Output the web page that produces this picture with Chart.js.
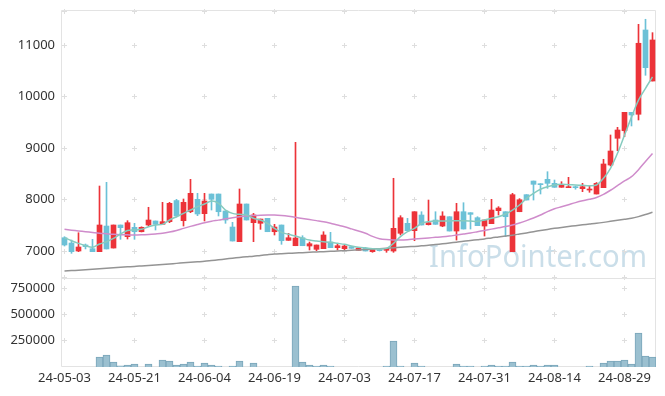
<!DOCTYPE html>
<html><head><meta charset="utf-8">
<script src="https://cdn.jsdelivr.net/npm/chart.js@4.4.1/dist/chart.umd.min.js"></script>
<style>html,body{margin:0;padding:0;background:#fff;}#wrap{width:665px;height:396px;position:relative;}</style>
</head><body><div id="wrap"><canvas id="c" width="665" height="396"></canvas></div>
<script>
const dates = ['24-05-03','24-05-07','24-05-08','24-05-09','24-05-10','24-05-13','24-05-14','24-05-16','24-05-17','24-05-20',
'24-05-21','24-05-22','24-05-23','24-05-24','24-05-27','24-05-28','24-05-29','24-05-30','24-05-31','24-06-03',
'24-06-04','24-06-05','24-06-07','24-06-10','24-06-11','24-06-12','24-06-13','24-06-14','24-06-17','24-06-18',
'24-06-19','24-06-20','24-06-21','24-06-24','24-06-25','24-06-26','24-06-27','24-06-28','24-07-01','24-07-02',
'24-07-03','24-07-04','24-07-05','24-07-08','24-07-09','24-07-10','24-07-11','24-07-12','24-07-15','24-07-16',
'24-07-17','24-07-18','24-07-19','24-07-22','24-07-23','24-07-24','24-07-25','24-07-26','24-07-29','24-07-30',
'24-07-31','24-08-01','24-08-02','24-08-05','24-08-06','24-08-07','24-08-08','24-08-09','24-08-12','24-08-13',
'24-08-14','24-08-16','24-08-19','24-08-20','24-08-21','24-08-22','24-08-23','24-08-26','24-08-27','24-08-28',
'24-08-29','24-08-30','24-09-02','24-09-03','24-09-04'];

const opens = [7258,7155,7000,7117,7045,6987,7485,7058,7505,7278,
 7460,7375,7505,7583,7518,7570,7980,7589,7763,8004,
 7725,8107,8107,7777,7466,7181,7913,7550,7538,7635,
 7375,7505,7207,7103,7258,7097,7033,7045,7175,7065,
 7045,7084,7013,7058,6987,7020,7013,7000,7344,7538,
 7395,7699,7511,7602,7485,7666,7388,7763,7744,7647,
 7485,7531,7783,7763,6987,7763,8094,8359,8307,8392,
 8314,8237,8230,8249,8210,8184,8107,8230,8670,9189,
 9336,9693,9655,11292,10301];

const highs = [7278,7213,7355,7136,7227,8262,8334,7505,7505,7589,
 7538,7470,7849,7583,7945,7945,8004,8010,8392,8120,
 8120,8107,8107,7777,7557,8204,7913,7731,7621,7635,
 7518,7505,7344,9111,7297,7175,7117,7375,7363,7142,
 7110,7090,7070,7070,7040,7030,7052,8412,7686,7634,
 7763,7763,7990,7763,7763,7666,7926,7938,7744,7666,
 7602,8004,7861,7763,8120,8017,8094,8359,8307,8540,
 8379,8346,8431,8262,8314,8262,8330,8781,9253,9402,
 9693,9693,11402,11500,11240];

const lows = [7097,6955,6987,7040,6987,6987,7040,7058,7227,7233,
 7227,7370,7485,7408,7518,7550,7660,7485,7744,7686,
 7583,7796,7680,7538,7194,7181,7602,7181,7421,7375,
 7311,7130,7207,7103,7103,7020,7007,7045,7065,7020,
 7020,7052,7013,7000,6975,7000,6975,6975,7311,7395,
 7200,7505,7505,7518,7472,7388,7213,7427,7427,7492,
 7291,7531,7699,7278,6987,7763,7990,7990,8107,8217,
 8237,8237,8230,8200,8152,8140,8107,8230,8651,8948,
 9220,9428,9544,10412,10301];

const closes = [7117,6987,7078,7085,6987,7505,7040,7505,7453,7550,
 7375,7460,7602,7518,7570,7926,7680,7945,8120,7719,
 7971,8004,7763,7602,7194,7913,7602,7700,7621,7375,
 7466,7200,7258,7252,7103,7142,7117,7311,7065,7103,
 7097,7052,7058,7000,7033,7007,7052,7440,7647,7395,
 7763,7505,7550,7518,7680,7388,7763,7427,7712,7492,
 7602,7796,7835,7666,8094,7996,7990,8295,8288,8314,
 8237,8295,8249,8230,8249,8204,8314,8690,8942,9350,
 9693,9641,11034,10560,11098];

const ma5 = [7258,7200,7149,7103,7072,7136,7181,7246,7330,7400,
 7408,7421,7472,7505,7518,7602,7666,7731,7796,7861,
 7913,7971,7926,7796,7731,7712,7699,7635,7602,7538,
 7440,7363,7324,7290,7250,7213,7194,7181,7168,7149,
 7130,7097,7072,7058,7045,7039,7052,7149,7278,7375,
 7440,7538,7570,7583,7583,7583,7589,7589,7583,7576,
 7602,7635,7666,7719,7796,7893,8023,8120,8200,8249,
 8282,8295,8288,8282,8275,8268,8282,8411,8606,8897,
 9250,9600,9930,10160,10380];

const ma20 = [7421,7405,7390,7375,7360,7345,7335,7325,7318,7314,
 7311,7315,7322,7332,7344,7368,7400,7440,7478,7515,
 7550,7578,7600,7625,7648,7666,7680,7690,7696,7699,
 7699,7690,7675,7654,7632,7610,7590,7570,7540,7505,
 7472,7430,7388,7344,7285,7240,7222,7215,7213,7220,
 7233,7245,7255,7265,7275,7290,7310,7330,7350,7375,
 7400,7425,7450,7475,7505,7545,7590,7640,7700,7765,
 7820,7860,7900,7940,7975,8005,8040,8100,8180,8270,
 8360,8443,8580,8740,8895];

const ma60 = [6612,6620,6628,6636,6645,6655,6665,6675,6685,6693,
 6700,6710,6720,6730,6740,6750,6760,6770,6780,6790,
 6800,6815,6830,6845,6860,6875,6888,6900,6915,6928,
 6940,6948,6955,6962,6968,6975,6982,6988,6994,7000,
 7006,7014,7022,7030,7038,7046,7055,7064,7073,7082,
 7090,7100,7110,7125,7140,7155,7172,7190,7205,7220,
 7235,7255,7272,7290,7308,7330,7352,7375,7398,7420,
 7440,7458,7475,7492,7508,7523,7538,7556,7576,7596,
 7616,7635,7668,7708,7751];

const volumes = [null,null,null,null,null,95000,114000,47500,12000,19000,
 28500,null,28500,null,66500,57000,19000,28500,47500,9500,
 38000,19000,9500,null,8000,57000,null,38000,null,null,
 null,null,null,770000,47500,19000,9500,19000,9500,null,
 null,null,null,null,null,null,9500,247000,9500,null,
 38000,9500,null,null,null,null,28500,9500,9500,null,
 9500,19000,9500,9500,47500,9500,9500,19000,9500,19000,
 19000,null,null,null,null,9500,null,38000,57000,57000,
 66500,28500,323000,104000,95000];

const priceTicks = [7000, 8000, 9000, 10000, 11000];
const volumeTicks = [250000, 500000, 750000];
const labelEvery = 10;
const watermark = 'InfoPointer.com';

const FONT = '"Noto Sans", "DejaVu Sans", sans-serif';
const UP = '#ec3339', DOWN = '#6cc1d7';
const candleColor = c => (closes[c.dataIndex] >= opens[c.dataIndex] ? UP : DOWN);

const decor = {
  id: 'decor',
  beforeDatasetsDraw(chart) {
    const { ctx, chartArea: a, scales } = chart;
    const x = scales.x, y = scales.y, yv = scales.yv;
    ctx.save();
    ctx.font = '30px ' + FONT;
    ctx.fillStyle = 'rgba(150,190,212,0.5)';
    ctx.textBaseline = 'alphabetic';
    const w = ctx.measureText(watermark).width;
    const left = 429, right = 647, base = 267;
    ctx.translate(left, base);
    ctx.scale((right - left) / w, 1);
    ctx.fillText(watermark, 0, 0);
    ctx.restore();

    ctx.save();
    const xs = [];
    for (let i = 0; i < dates.length; i += labelEvery) xs.push(Math.round(x.getPixelForValue(i) - 0.5) + 0.5);
    const ys = [];
    priceTicks.forEach(v => ys.push(y.getPixelForValue(v)));
    volumeTicks.forEach(v => ys.push(yv.getPixelForValue(v)));
    ys.push(y.top + 1, y.bottom - 1);
    ctx.strokeStyle = '#dedede';
    ctx.lineWidth = 1;
    ctx.beginPath();
    xs.forEach(px => ys.forEach(py0 => {
      const py = Math.round(py0 - 0.5) + 0.5;
      ctx.moveTo(px - 2.5, py); ctx.lineTo(px + 2.5, py);
      ctx.moveTo(px, py - 2.5); ctx.lineTo(px, py + 2.5);
    }));
    ctx.stroke();
    ctx.strokeStyle = '#e3e3e3';
    ctx.beginPath();
    ctx.rect(Math.round(a.left) + 0.5, Math.round(a.top) + 0.5, Math.round(a.right - a.left) - 1, Math.round(a.bottom - a.top) - 1);
    const sep = Math.round(y.bottom) + 0.5;
    ctx.moveTo(a.left, sep); ctx.lineTo(a.right, sep);
    ctx.stroke();
    ctx.restore();
  }
};

const tickFmt = v => String(v);
const fitY = s => { s.width = 61; s.paddingTop = 0; s.paddingBottom = 0; };

new Chart(document.getElementById('c'), {
  data: {
    labels: dates,
    datasets: [
      { type: 'line', label: 'MA5', data: ma5, yAxisID: 'y', borderColor: '#86cbbf', borderWidth: 1.5, pointRadius: 0, tension: 0.3, order: 0 },
      { type: 'line', label: 'MA20', data: ma20, yAxisID: 'y', borderColor: '#cf8ccb', borderWidth: 1.5, pointRadius: 0, tension: 0.3, order: 0 },
      { type: 'line', label: 'MA60', data: ma60, yAxisID: 'y', borderColor: '#949494', borderWidth: 1.5, pointRadius: 0, tension: 0.3, order: 0 },
      { type: 'bar', label: 'body', data: opens.map((o, i) => [o, closes[i]]), yAxisID: 'y', backgroundColor: candleColor, barThickness: 5, minBarLength: 1, grouped: false, order: 1 },
      { type: 'bar', label: 'wick', data: lows.map((l, i) => [l, highs[i]]), yAxisID: 'y', backgroundColor: candleColor, barThickness: 1, grouped: false, order: 2 },
      { type: 'bar', label: 'volume', data: volumes, yAxisID: 'yv', backgroundColor: '#9bc0d0', borderColor: '#7aa6ba', borderWidth: 1, barPercentage: 1, categoryPercentage: 1, grouped: false, order: 3 }
    ]
  },
  options: {
    responsive: false,
    animation: false,
    layout: { padding: { left: 0, top: 10, right: 9, bottom: 0 } },
    plugins: { legend: { display: false }, tooltip: { enabled: false } },
    scales: {
      x: {
        type: 'category', offset: true,
        grid: { display: false, drawTicks: false }, border: { display: false },
        ticks: { autoSkip: false, maxRotation: 0, minRotation: 0, padding: 3, color: '#333', font: { family: FONT, size: 13 },
          callback: (v, i) => (i % labelEvery === 0 ? dates[i] : null) },
        afterFit: s => { s.height = 29; }
      },
      yv: {
        type: 'linear', position: 'left', stack: 'main', stackWeight: 89, min: 0, max: 847000,
        grid: { display: false, drawTicks: false }, border: { display: false },
        ticks: { padding: 6, color: '#333', font: { family: FONT, size: 13 }, callback: tickFmt },
        afterBuildTicks: s => { s.ticks = volumeTicks.map(v => ({ value: v })); },
        afterFit: fitY
      },
      y: {
        type: 'linear', position: 'left', stack: 'main', stackWeight: 268, min: 6476, max: 11680,
        grid: { display: false, drawTicks: false }, border: { display: false },
        ticks: { padding: 6, color: '#333', font: { family: FONT, size: 13 }, callback: tickFmt },
        afterBuildTicks: s => { s.ticks = priceTicks.map(v => ({ value: v })); },
        afterFit: fitY
      }
    }
  },
  plugins: [decor]
});
</script></body></html>
